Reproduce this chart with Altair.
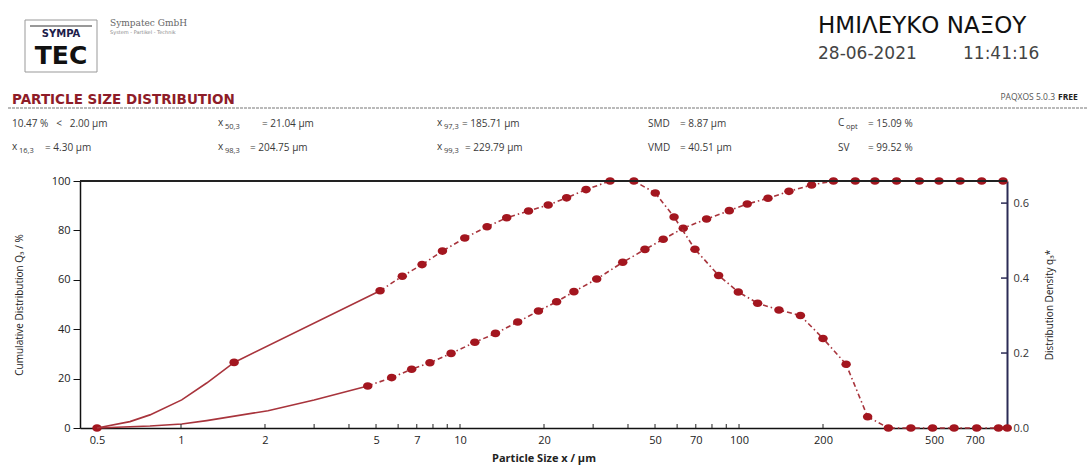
import altair as alt
import pandas as pd

# ---------------- data ----------------
# Cumulative distribution Q3 (%), solid start (no markers)
cum_solid_x = [0.5, 0.656, 0.774, 1.006, 1.236, 2.05, 3.0, 4.67]
cum_solid_q = [0.0, 0.5, 0.8, 1.6, 3.0, 7.0, 11.3, 17.0]
# Cumulative distribution Q3 (%), marked points
cum_dot_x = [0.5, 4.67, 5.69, 6.71, 7.80, 9.29, 11.3, 13.4, 16.1, 19.1, 22.2, 25.6,
             30.9, 38.3, 46.0, 53.5, 63.1, 76.5, 92.3, 107, 127, 151, 182, 218,
             261, 307, 367, 443, 521, 620, 741, 884]
cum_dot_q = [0.0, 17.0, 20.4, 23.8, 26.4, 30.2, 34.7, 38.3, 42.9, 47.4, 51.1, 55.2,
             60.3, 67.1, 72.3, 76.4, 80.9, 84.6, 88.0, 90.7, 93.0, 95.8, 98.4, 100,
             100, 100, 100, 100, 100, 100, 100, 100]
# Distribution density q3*, solid start
dens_solid_x = [0.5, 0.656, 0.774, 1.006, 1.236, 1.55, 5.17]
dens_solid_d = [0.0, 0.017, 0.035, 0.075, 0.12, 0.175, 0.366]
# Distribution density q3*, marked points
dens_dot_x = [1.55, 5.17, 6.21, 7.31, 8.65, 10.4, 12.5, 14.7, 17.6, 20.7, 24.1, 28.3,
              34.5, 42.0, 50.1, 58.5, 69.5, 84.5, 99.4, 116.6, 139, 166, 200, 242,
              289, 343, 413, 494, 590, 711, 851, 915]
dens_dot_d = [0.175, 0.366, 0.405, 0.436, 0.472, 0.507, 0.537, 0.561, 0.579, 0.595, 0.614, 0.636,
              0.659, 0.659, 0.627, 0.563, 0.477, 0.407, 0.363, 0.333, 0.315, 0.300, 0.239, 0.170,
              0.030, 0.0, 0.0, 0.0, 0.0, 0.0, 0.0, 0.0]

x_tick_labels = [0.5, 1, 2, 5, 7, 10, 20, 50, 70, 100, 200, 500, 700]
x_minor_ticks = [1, 2, 3, 4, 5, 6, 7, 8, 9, 10, 20, 30, 40, 50, 60, 70, 80, 90, 100, 200]
q_ticks = [0, 20, 40, 60, 80, 100]
d_ticks = [0.0, 0.2, 0.4, 0.6]

# ---------------- layout ----------------
X0, Y0, W, H = 80, 181, 927, 247
FONT = "Open Sans"
LINE = "#a8343c"
DOT = "#a3161f"
NB = "\u00a0"

cum_solid = pd.DataFrame({"x": cum_solid_x, "q": cum_solid_q})
cum_dots = pd.DataFrame({"x": cum_dot_x, "q": cum_dot_q})
cum_dash = cum_dots[cum_dots["x"] >= 4.67]
dens_solid = pd.DataFrame({"x": dens_solid_x, "d": dens_solid_d})
dens_dots = pd.DataFrame({"x": dens_dot_x, "d": dens_dot_d})
dens_dash = dens_dots[dens_dots["x"] >= 5.17]
minor = pd.DataFrame({"x": x_minor_ticks})
dt = pd.DataFrame({"d": d_ticks[1:]})

x_enc = alt.X(
    "x:Q",
    scale=alt.Scale(type="log", domain=[0.4345, 913], nice=False),
    axis=alt.Axis(values=x_tick_labels, format="~g", title="Particle Size x / µm",
                  ticks=False, grid=False, domainColor="#111", domainWidth=1.5,
                  labelFontSize=11, labelFont=FONT, labelColor="#222", labelPadding=6,
                  labelFlush=False, labelOverlap=False,
                  titleFont=FONT, titleFontSize=11, titleFontWeight="bold",
                  titleColor="#222", titlePadding=7),
)
yq_enc = alt.Y(
    "q:Q",
    scale=alt.Scale(domain=[0, 100], nice=False),
    axis=alt.Axis(values=q_ticks, title="Cumulative Distribution Q₃ / %", grid=False,
                  tickSize=7, tickColor="#111", domainColor="#111", domainWidth=1.5,
                  labelFontSize=11, labelFont=FONT, labelColor="#222", labelPadding=3,
                  titleFont=FONT, titleFontSize=10, titleFontWeight="normal",
                  titleColor="#222", titlePadding=27),
)
yd_enc = alt.Y(
    "d:Q",
    scale=alt.Scale(domain=[0, 0.659], nice=False),
    axis=alt.Axis(orient="right", values=d_ticks, format=".1f",
                  title="Distribution Density q₃*", grid=False, ticks=False,
                  domainColor="#2b2b55", domainWidth=2,
                  labelFontSize=11, labelFont=FONT, labelColor="#333", labelPadding=6,
                  titleFont=FONT, titleFontSize=10, titleFontWeight="normal",
                  titleColor="#222", titleAngle=270, titlePadding=26),
)

pt_shape = "M -1 0 A 1 0.8 0 1 0 1 0 A 1 0.8 0 1 0 -1 0 Z"

left = alt.layer(
    alt.Chart(cum_solid).mark_line(color=LINE, strokeWidth=1.6).encode(x=x_enc, y=yq_enc),
    alt.Chart(cum_dash).mark_line(color=LINE, strokeWidth=1.6, strokeDash=[5, 3, 1.5, 3]).encode(x=x_enc, y=yq_enc),
    alt.Chart(cum_dots).mark_point(shape=pt_shape, filled=True, size=90, color=DOT, opacity=1).encode(x=x_enc, y=yq_enc),
    alt.Chart(minor).mark_rule(color="#222", strokeWidth=1).encode(x=x_enc, y=alt.value(H), y2=alt.value(H - 4)),
)

right = alt.layer(
    alt.Chart(dens_solid).mark_line(color=LINE, strokeWidth=1.6).encode(x=x_enc, y=yd_enc),
    alt.Chart(dens_dash).mark_line(color=LINE, strokeWidth=1.6, strokeDash=[5, 3, 1.5, 3]).encode(x=x_enc, y=yd_enc),
    alt.Chart(dens_dots).mark_point(shape=pt_shape, filled=True, size=90, color=DOT, opacity=1).encode(x=x_enc, y=yd_enc),
    alt.Chart(dt).mark_rule(color="#2b2b55", strokeWidth=1.5).encode(y=yd_enc, x=alt.value(W - 6), x2=alt.value(W)),
)


def label(text, x, y, size=10, color="#3a3a3a", weight="normal", align="left",
          font=FONT, baseline="middle"):
    return alt.Chart(alt.Data(values=[{}])).mark_text(
        text=text, align=align, baseline=baseline, fontSize=size, font=font,
        fontWeight=weight, color=color,
    ).encode(x=alt.value(x - X0), y=alt.value(y - Y0))


def hline(x1, x2, y, color="#111", width=1.5, dash=None):
    kw = dict(color=color, strokeWidth=width)
    if dash:
        kw["strokeDash"] = dash
    return alt.Chart(alt.Data(values=[{}])).mark_rule(**kw).encode(
        x=alt.value(x1 - X0), x2=alt.value(x2 - X0), y=alt.value(y - Y0))


def sub_label(main, sub, x, y, sub_dx=7):
    return [label(main, x, y - 1), label(sub, x + sub_dx, y + 3, size=7.5)]


decor = [
    # top frame line of the plot
    hline(X0, X0 + W, Y0, color="#222", width=2),
    # logo
    alt.Chart(alt.Data(values=[{}])).mark_rect(fill="white", stroke="#999", strokeWidth=1).encode(
        x=alt.value(25 - X0), x2=alt.value(97 - X0), y=alt.value(20 - Y0), y2=alt.value(72 - Y0)),
    hline(30, 92, 26, color="#333", width=1),
    label("SYMPA", 61, 34, size=10, color="#1d1d4a", weight="bold", align="center", font="DejaVu Sans"),
    label("TEC", 61, 56, size=25, color="#111", weight="bold", align="center", font="DejaVu Sans"),
    label("Sympatec GmbH", 110, 23, size=9, color="#666", font="DejaVu Serif"),
    label("System - Partikel - Technik", 110, 32, size=5, color="#888", font="DejaVu Sans"),
    # title block
    label("ΗΜΙΛΕΥΚΟ ΝΑΞΟΥ", 818, 26, size=23, color="#111", font="DejaVu Sans"),
    label("28-06-2021", 818, 54, size=17, color="#444", font="DejaVu Sans"),
    label("11:41:16", 963, 54, size=17, color="#444", font="DejaVu Sans"),
    label("PARTICLE SIZE DISTRIBUTION", 12, 100, size=13.5, color="#8e1c28", weight="bold", font="DejaVu Sans"),
    label("PAQXOS 5.0.3", 1055, 97, size=8.5, color="#555", align="right"),
    label("FREE", 1058, 97, size=8.5, color="#222", weight="bold"),
    hline(8, 1088, 108, color="#777", width=1.2, dash=[3, 1]),
    # statistics row 1
    label(f"10.47 %{NB*3}<{NB*3}2.00 µm", 12, 124),
    label("= 21.04 µm", 262, 124),
    label("= 185.71 µm", 462, 124),
    label("SMD", 648, 124), label("= 8.87 µm", 680, 124),
    label("= 15.09 %", 868, 124),
    # statistics row 2
    label("= 4.30 µm", 45, 148),
    label("= 204.75 µm", 250, 148),
    label("= 229.79 µm", 465, 148),
    label("VMD", 648, 148), label("= 40.51 µm", 680, 148),
    label("SV", 838, 148), label("= 99.52 %", 868, 148),
]
decor += sub_label("x", "50,3", 218, 124)
decor += sub_label("x", "97,3", 437, 124)
decor += sub_label("C", "opt", 838, 124, sub_dx=8)
decor += sub_label("x", "16,3", 12, 148)
decor += sub_label("x", "98,3", 218, 148)
decor += sub_label("x", "99,3", 437, 148)

chart = alt.layer(left, right, *decor).resolve_scale(y="independent").properties(
    width=W, height=H,
    autosize=alt.AutoSizeParams(type="none"),
    padding={"left": X0, "top": Y0, "right": 1092 - X0 - W, "bottom": 466 - Y0 - H},
    background="white",
).configure_view(stroke=None)

chart.save("out.html", embed_options={"renderer": "svg", "actions": False})
